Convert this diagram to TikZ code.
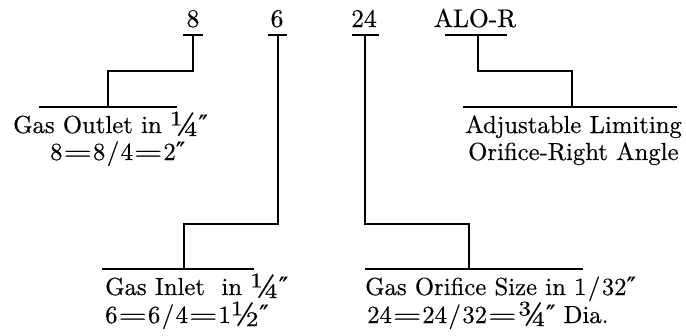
\documentclass[tikz,border=0pt]{standalone}
\usepackage{fontspec}
\usepackage{graphicx}
\setmainfont{lmroman10-regular.otf}[FakeBold=0.45]
\newfontfamily\primefont{DejaVu Serif}[FakeBold=0.4]
\newcommand{\dpr}{{\primefont\fontsize{25}{25}\selectfont ″}}
\newcommand{\frc}[1]{\raisebox{-3pt}{\scalebox{1.4}{#1}}}
\newcommand{\eqs}{\kern0.8pt\scalebox{1.5}[1]{=}\kern0.8pt}
\newcommand{\slsh}{\kern1.5pt/\kern1.5pt}
\begin{document}
\begin{tikzpicture}[x=1pt,y=-1pt,
  wire/.style={line width=2.8pt, line join=miter, line cap=butt},
  lab/.style={inner sep=0pt, font=\fontsize{24.7}{27}\selectfont, anchor=base west},
  toplab/.style={inner sep=0pt, font=\fontsize{25.5}{27}\selectfont, anchor=base}]
\useasboundingbox (0,0) rectangle (686,335);
% top labels
\node[toplab] (n8) at (193,27) {8};
\node[toplab] (n6) at (277,27) {6};
\node[toplab] (n24) at (364,27) {24};
\node[toplab] (nalo) at (475,27) {ALO-R};
% tick coordinates
\coordinate (t8l) at (183,35);  \coordinate (t8r) at (203,35);  \coordinate (t8) at (193,35);
\coordinate (t6l) at (268,35);  \coordinate (t6r) at (287,35);  \coordinate (t6) at (278,35);
\coordinate (t24l) at (352,35); \coordinate (t24r) at (379,35); \coordinate (t24) at (365,35);
\coordinate (tal) at (445,35);  \coordinate (tar) at (507,35);  \coordinate (ta) at (478,35);
% corners and baseline feet
\coordinate (c8) at (108,71);   \coordinate (f8) at (108,107);
\coordinate (c6) at (184,224);  \coordinate (f6) at (184,269);
\coordinate (c24) at (469,224); \coordinate (f24) at (469,269);
\coordinate (ca) at (572,71);   \coordinate (fa) at (572,107);
% baselines
\coordinate (b8l) at (39,107);  \coordinate (b8r) at (177,107);
\coordinate (b6l) at (102,269); \coordinate (b6r) at (254,269);
\coordinate (b24l) at (365,269);\coordinate (b24r) at (583,269);
\coordinate (bal) at (463,107); \coordinate (bar) at (677,107);
% draw
\draw[wire] (t8l) -- (t8r);   \draw[wire] (t8) |- (c8) -- (f8);   \draw[wire] (b8l) -- (b8r);
\draw[wire] (t6l) -- (t6r);   \draw[wire] (t6) |- (c6) -- (f6);   \draw[wire] (b6l) -- (b6r);
\draw[wire] (t24l) -- (t24r); \draw[wire] (t24) |- (c24) -- (f24); \draw[wire] (b24l) -- (b24r);
\draw[wire] (tal) -- (tar);   \draw[wire] (ta) |- (ca) -- (fa);   \draw[wire] (bal) -- (bar);
% text
\node[lab] (out1) at (13,133) {Gas Outlet in \frc{¼}\dpr};
\node[lab] (out2) at (50,160) {8\eqs8\slsh4\eqs2\dpr};
\node[lab] (alo1) at (465,133) {Adjustable Limiting};
\node[lab] (alo2) at (468,160) {Orifice-Right Angle};
\node[lab] (in1) at (105,295) {Gas Inlet\ \ in \frc{¼}\dpr};
\node[lab] (in2) at (105,323) {6\eqs6\slsh4\eqs1\frc{½}\dpr};
\node[lab] (or1) at (365,295) {Gas Orifice Size in 1\slsh32\dpr};
\node[lab] (or2) at (367,323) {24\eqs24\slsh32\eqs\frc{¾}\dpr{} Dia.};
\end{tikzpicture}
\end{document}
